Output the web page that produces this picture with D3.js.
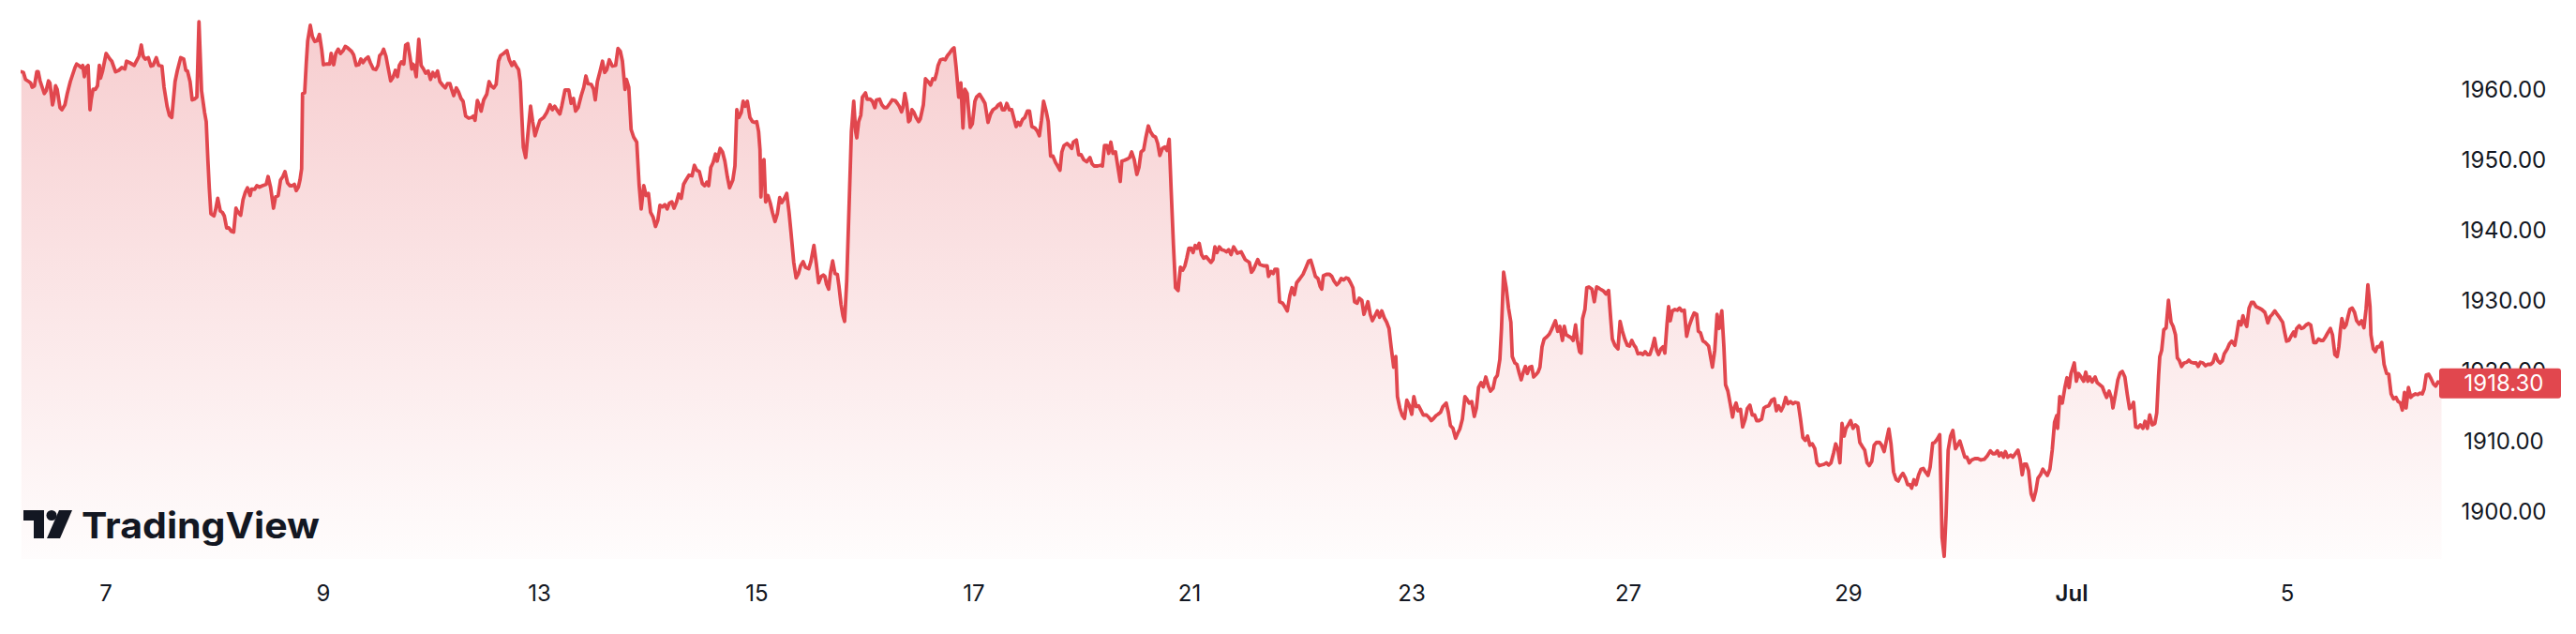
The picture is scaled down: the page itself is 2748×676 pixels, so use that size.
<!DOCTYPE html>
<html>
<head>
<meta charset="utf-8">
<script src="https://cdn.jsdelivr.net/npm/d3@7"></script>
<style>
  html, body { margin: 0; padding: 0; background: #ffffff; }
  svg { display: block; }
</style>
</head>
<body>
<svg id="chart" width="2748" height="676"></svg>
<script>
// ---- data: [bar index (30-min bars from start), price] ----
const pricePoints = [
[0.3,1962.6],[1.2,1962.5],[2.1,1961.5],[3.5,1961.2],[4.3,1961.0],[4.9,1960.4],[5.9,1960.6],[6.9,1962.6],[7.5,1962.6],[8.3,1961.3],[9.2,1960.4],[10.1,1959.5],[10.9,1959.9],[11.9,1961.3],[12.5,1961.0],[13.6,1957.9],[14.1,1958.6],[14.9,1960.6],[15.6,1960.1],[16.8,1957.5],[17.6,1957.2],[18.9,1957.9],[19.9,1959.5],[21.2,1961.2],[23.2,1963.2],[23.9,1963.7],[24.8,1963.5],[25.9,1963.2],[26.5,1963.5],[27.2,1961.9],[27.9,1963.2],[28.8,1963.5],[29.6,1957.2],[30.1,1958.6],[30.9,1960.1],[31.9,1960.1],[32.8,1960.6],[33.6,1963.5],[34.1,1961.7],[34.9,1962.6],[36.5,1965.2],[38.1,1964.4],[38.9,1964.1],[40.5,1962.6],[41.9,1962.8],[43.2,1963.2],[44.5,1963.0],[45.2,1964.1],[46.5,1963.9],[48.5,1963.5],[49.9,1964.4],[50.5,1964.8],[51.5,1966.4],[52.3,1964.8],[53.2,1964.4],[54.5,1964.6],[55.6,1963.4],[56.5,1963.5],[57.9,1964.6],[58.9,1963.5],[60.3,1963.4],[61.2,1960.4],[62.5,1957.7],[63.5,1956.4],[64.5,1956.1],[65.9,1961.2],[66.9,1962.8],[68.3,1964.6],[69.6,1964.4],[70.5,1962.8],[71.2,1962.7],[72.3,1961.2],[73.2,1958.6],[74.1,1958.7],[75.2,1959.0],[76.1,1969.7],[77.2,1959.9],[78.5,1956.8],[79.2,1955.5],[79.9,1950.1],[80.5,1946.1],[81.2,1942.4],[82.5,1942.1],[83.2,1943.0],[84.1,1944.6],[85.2,1942.8],[86.1,1942.6],[86.9,1942.1],[87.9,1940.4],[88.8,1940.4],[89.9,1939.9],[90.9,1939.8],[91.9,1943.2],[92.8,1942.6],[93.9,1942.2],[94.9,1944.4],[95.9,1945.5],[96.8,1946.1],[97.9,1945.0],[98.5,1945.9],[99.9,1945.9],[100.8,1946.4],[101.9,1946.2],[103.2,1946.4],[104.8,1946.6],[105.6,1947.7],[106.7,1946.1],[107.9,1943.2],[108.8,1944.8],[109.9,1945.0],[110.9,1947.2],[111.9,1947.7],[112.8,1948.4],[113.9,1946.8],[114.9,1946.4],[115.9,1946.4],[116.8,1946.6],[117.6,1945.7],[118.5,1946.2],[119.2,1947.2],[119.9,1948.8],[120.3,1959.5],[121.2,1959.6],[121.9,1963.9],[122.5,1967.0],[123.6,1969.2],[124.5,1967.6],[125.5,1966.9],[126.5,1967.0],[127.5,1967.9],[128.5,1965.7],[129.2,1963.6],[130.5,1963.7],[131.9,1963.7],[132.5,1965.2],[133.6,1963.6],[134.5,1965.2],[135.5,1965.8],[136.5,1965.2],[137.6,1965.6],[138.5,1966.2],[139.5,1966.0],[141.2,1965.5],[142.1,1965.0],[143.2,1963.5],[144.3,1963.6],[145.2,1964.4],[146.1,1963.9],[147.2,1964.4],[148.3,1964.7],[149.2,1963.9],[150.5,1963.0],[151.6,1962.9],[152.5,1963.5],[153.2,1964.9],[154.1,1965.2],[154.9,1965.8],[155.9,1964.8],[156.8,1963.2],[157.9,1961.3],[158.9,1961.8],[159.9,1962.8],[160.8,1961.9],[161.6,1963.5],[162.5,1964.0],[163.5,1963.7],[164.3,1966.4],[165.2,1966.6],[166.1,1964.8],[166.9,1963.0],
[167.2,1963.7],[167.9,1963.5],[168.8,1961.9],[169.9,1967.2],[170.9,1963.5],[171.9,1963.0],[172.8,1962.4],[173.9,1962.7],[174.9,1961.5],[175.9,1962.5],[176.8,1961.9],[177.9,1962.7],[178.9,1961.2],[180.3,1960.6],[181.2,1960.3],[182.1,1960.9],[183.2,1960.9],[183.9,1960.1],[184.8,1959.2],[185.9,1960.3],[186.9,1959.7],[187.9,1958.8],[188.8,1958.4],[189.9,1956.3],[191.2,1956.0],[192.5,1956.1],[193.2,1956.3],[193.9,1955.7],[194.9,1958.5],[195.9,1957.7],[196.5,1957.0],[197.6,1958.6],[198.9,1959.4],[199.9,1961.2],[200.8,1960.6],[201.9,1960.3],[202.9,1960.8],[203.9,1964.1],[204.8,1964.9],[206.1,1965.2],[207.5,1965.6],[208.5,1964.3],[209.6,1963.5],[210.5,1964.0],[211.5,1963.4],[212.5,1962.9],[213.2,1961.2],[213.9,1956.1],[214.5,1951.9],[215.5,1950.4],[216.3,1953.2],[217.6,1957.7],[218.5,1955.5],[219.5,1953.5],[220.5,1954.6],[221.6,1955.7],[223.2,1956.1],[224.5,1956.8],[225.9,1957.9],[226.9,1957.2],[227.9,1957.7],[229.2,1957.0],[230.1,1956.6],[230.9,1957.7],[232.3,1960.0],[233.9,1960.0],[234.9,1958.1],[235.9,1958.8],[236.8,1957.0],[237.9,1957.5],[239.2,1959.2],[240.3,1960.4],[241.2,1962.0],[242.1,1960.9],[243.5,1960.8],[244.5,1960.1],[245.2,1958.6],[246.1,1961.2],[247.2,1962.6],[248.3,1964.1],[249.2,1962.5],[250.1,1962.9],[251.2,1964.3],[252.5,1963.4],[253.9,1963.5],[254.9,1965.9],[255.9,1965.5],[256.8,1964.1],[257.9,1960.1],[258.5,1961.5],[259.5,1960.4],[260.5,1954.4],[261.6,1953.3],[262.9,1952.6],[263.9,1946.6],[264.8,1943.1],[265.9,1946.4],[266.9,1945.0],[267.9,1945.3],[268.8,1942.6],[269.9,1941.9],[270.9,1940.6],[271.9,1941.5],[272.8,1943.6],[273.9,1943.4],[274.9,1943.7],[275.9,1943.1],[276.8,1943.9],[277.9,1944.1],[278.8,1943.2],[279.9,1944.1],[280.8,1945.2],[281.9,1944.6],[282.9,1946.6],[283.9,1947.2],[285.2,1947.9],[286.5,1947.8],[287.5,1949.3],[288.5,1948.6],[289.6,1948.4],[290.9,1946.7],[291.9,1946.4],[292.8,1946.9],[293.6,1946.4],[294.5,1949.0],[295.5,1949.7],[296.5,1950.9],[297.2,1949.9],[298.5,1951.7],[299.5,1951.2],[300.5,1949.9],[301.6,1947.6],[302.5,1946.1],[303.9,1947.2],[304.8,1949.2],[305.6,1957.2],[306.5,1956.1],[307.5,1956.8],[308.3,1958.4],[309.2,1957.7],[310.1,1958.4],[311.2,1956.1],[312.3,1955.5],[313.2,1955.4],[314.1,1955.5],[314.9,1954.1],[315.5,1951.5],[315.9,1944.8],[316.5,1949.7],[317.2,1950.1],[317.9,1944.1],[318.9,1945.0],[319.9,1943.9],[320.8,1942.6],[321.9,1941.3],[322.9,1942.4],[323.9,1944.7],[324.8,1944.0],[325.9,1944.6],[326.9,1945.3],[327.9,1942.6],[328.8,1939.5],[329.9,1935.5],[330.9,1933.3],[331.9,1933.9],[332.8,1935.0],[333.9,1935.6],[334.9,1934.8],[336.3,1934.6],[337.2,1935.6],[338.5,1937.9],[339.5,1935.4],[340.5,1932.6],[341.6,1933.5],[342.5,1933.7],
[343.2,1933.5],[343.9,1932.4],[344.8,1931.7],[345.6,1934.1],[346.5,1935.7],[347.5,1933.9],[348.5,1933.8],[349.2,1932.1],[350.1,1929.5],[350.9,1927.9],[351.6,1927.1],[352.5,1932.8],[353.6,1944.4],[354.5,1954.1],[355.5,1958.4],[356.3,1954.1],[356.8,1953.2],[357.6,1955.5],[358.5,1956.4],[359.2,1959.0],[360.5,1959.6],[361.2,1958.7],[362.5,1958.7],[363.5,1958.4],[364.5,1957.5],[365.2,1958.6],[366.5,1958.7],[367.5,1957.9],[368.5,1957.5],[369.6,1957.5],[370.9,1958.1],[371.9,1958.6],[373.2,1958.5],[374.1,1958.1],[374.9,1957.7],[375.9,1956.9],[376.5,1957.5],[377.3,1959.5],[378.1,1958.1],[378.9,1955.5],[379.5,1955.7],[380.3,1957.2],[381.2,1956.8],[382.1,1956.1],[383.2,1955.5],[383.9,1955.9],[385.2,1957.9],[386.1,1961.6],[387.2,1961.2],[388.3,1960.7],[389.2,1961.6],[390.1,1961.5],[390.9,1962.5],[391.5,1963.5],[392.5,1964.3],[393.6,1964.4],[394.5,1964.3],[395.5,1964.9],[396.5,1965.3],[397.6,1965.8],[398.3,1966.0],[399.2,1963.2],[400.3,1959.0],[401.2,1961.0],[402.1,1954.6],[402.9,1960.1],[403.9,1959.5],[404.5,1957.2],[405.2,1954.7],[406.1,1955.2],[407.2,1958.4],[407.9,1959.0],[409.2,1959.4],[410.5,1958.7],[411.5,1958.1],[412.8,1955.4],[413.9,1956.6],[414.9,1957.2],[416.3,1957.5],[417.2,1957.9],[418.1,1958.1],[418.9,1957.2],[419.9,1957.2],[420.8,1958.1],[421.9,1957.2],[422.9,1957.2],[423.9,1955.9],[424.8,1954.8],[425.6,1955.4],[426.5,1955.0],[427.5,1955.8],[428.5,1956.1],[429.6,1957.0],[430.5,1957.0],[431.5,1954.8],[432.8,1954.6],[433.9,1954.1],[434.7,1953.5],[435.6,1955.7],[436.5,1958.4],[437.6,1957.0],[438.5,1955.5],[439.5,1950.6],[440.5,1950.6],[441.6,1949.7],[442.5,1949.2],[443.5,1948.6],[444.3,1951.2],[445.2,1952.1],[446.5,1952.4],[447.5,1952.1],[448.5,1951.7],[449.2,1952.6],[450.5,1952.9],[451.5,1950.8],[452.5,1950.8],[453.6,1950.1],[454.9,1949.8],[456.3,1950.4],[457.2,1949.5],[458.1,1949.2],[459.5,1949.2],[460.8,1949.3],[461.6,1949.2],[462.5,1952.1],[463.6,1952.1],[464.3,1951.0],[465.2,1952.6],[466.1,1951.0],[467.2,1951.2],[468.1,1949.3],[469.2,1947.0],[469.9,1949.9],[470.9,1950.0],[472.3,1950.2],[473.2,1950.4],[474.1,1951.2],[475.2,1950.1],[476.3,1948.0],[477.2,1949.0],[478.1,1951.2],[479.2,1951.5],[480.1,1953.2],[481.2,1954.9],[482.1,1954.1],[483.2,1953.5],[484.3,1953.3],[485.2,1952.4],[486.1,1950.7],[487.2,1951.7],[488.3,1951.9],[489.2,1951.4],[490.1,1953.0],[490.9,1946.1],[491.9,1938.1],[492.8,1931.9],[493.9,1931.5],[494.9,1934.8],[495.9,1934.4],[496.8,1935.0],[497.6,1936.1],[498.5,1937.5],[499.5,1937.5],[500.3,1936.9],[501.2,1937.9],[502.1,1937.5],[502.9,1938.2],[503.9,1936.6],[504.8,1936.1],[505.9,1936.3],[506.9,1935.9],[507.9,1935.5],[508.8,1935.9],[509.6,1937.7],[510.5,1936.9],[511.5,1937.7],[512.5,1937.3],[513.6,1937.2],[514.5,1937.0],[515.5,1937.3],[516.5,1936.6],[517.6,1937.7],[518.5,1937.2],
[519.2,1936.8],[520.8,1937.0],[522.5,1935.9],[524.3,1935.5],[525.2,1934.1],[526.1,1934.5],[527.9,1935.9],[528.8,1935.2],[530.5,1935.0],[531.9,1935.0],[532.5,1933.5],[533.6,1934.2],[534.5,1933.9],[535.2,1934.5],[536.3,1934.5],[537.2,1929.9],[538.5,1929.7],[539.5,1929.2],[540.5,1928.6],[541.6,1930.8],[542.5,1931.9],[543.5,1930.9],[544.5,1932.6],[545.9,1933.2],[547.2,1933.8],[548.5,1934.8],[549.6,1935.7],[550.5,1935.8],[551.5,1934.7],[552.5,1933.5],[553.6,1933.2],[554.5,1932.1],[555.2,1931.7],[555.9,1933.6],[557.2,1933.8],[558.5,1933.8],[559.5,1933.5],[560.5,1932.8],[561.6,1932.3],[562.5,1932.6],[563.5,1933.2],[564.5,1933.0],[565.6,1933.3],[566.5,1933.2],[567.5,1932.6],[568.5,1931.9],[569.2,1929.9],[570.3,1929.7],[571.2,1930.4],[572.3,1930.1],[573.2,1928.1],[574.1,1929.0],[574.9,1929.9],[575.9,1928.1],[576.8,1927.2],[577.9,1927.9],[578.9,1928.6],[579.9,1927.7],[580.8,1928.6],[581.9,1927.6],[582.9,1927.0],[583.9,1926.1],[584.8,1923.5],[585.9,1920.6],[586.8,1922.1],[587.5,1916.4],[588.5,1914.8],[589.6,1913.7],[590.5,1913.3],[591.5,1915.9],[592.5,1915.2],[593.6,1913.9],[594.5,1916.4],[595.5,1915.0],[596.5,1915.1],[597.6,1914.4],[598.5,1913.8],[599.9,1913.8],[600.8,1913.5],[601.9,1913.0],[602.9,1913.3],[603.9,1913.7],[604.8,1913.9],[605.9,1914.2],[606.9,1915.0],[608.3,1915.5],[609.2,1914.2],[610.1,1912.3],[611.2,1911.9],[612.3,1910.5],[613.2,1911.2],[614.1,1911.8],[615.2,1913.2],[616.3,1916.4],[617.2,1916.0],[618.1,1915.5],[619.2,1915.7],[620.3,1913.6],[621.2,1914.8],[622.1,1917.7],[623.2,1918.4],[624.1,1917.8],[625.2,1919.2],[626.3,1917.9],[627.2,1917.2],[628.3,1917.6],[629.2,1919.0],[630.1,1919.4],[631.2,1921.7],[631.9,1926.1],[632.8,1934.1],[633.9,1931.9],[634.9,1929.0],[635.9,1927.0],[636.5,1922.1],[637.6,1921.2],[638.5,1921.0],[639.5,1919.7],[640.3,1918.8],[641.2,1919.9],[642.1,1920.7],[642.9,1919.7],[643.9,1920.6],[644.8,1920.7],[645.6,1919.2],[646.5,1919.5],[647.5,1919.9],[648.3,1920.6],[649.2,1923.5],[650.1,1924.6],[651.2,1924.9],[652.3,1925.3],[653.2,1925.9],[654.1,1926.6],[654.9,1927.2],[655.9,1925.7],[656.8,1926.4],[657.9,1924.4],[658.7,1926.4],[659.5,1925.2],[660.5,1925.0],[661.6,1924.8],[662.5,1924.4],[663.5,1926.6],[664.3,1924.4],[665.2,1922.8],[665.9,1922.6],[666.5,1927.5],[667.5,1928.8],[668.3,1931.9],[669.2,1932.0],[670.5,1931.7],[671.5,1929.9],[672.5,1932.0],[673.6,1931.8],[674.5,1931.6],[675.5,1931.4],[676.5,1931.0],[677.6,1931.5],[678.5,1927.5],[679.2,1924.6],[680.3,1923.7],[681.6,1923.2],[682.5,1927.1],[683.5,1925.7],[684.5,1924.6],[685.6,1923.7],[686.5,1923.6],[687.5,1924.4],[688.5,1923.7],[689.2,1923.4],[690.1,1922.5],[691.2,1922.6],[692.3,1922.4],[693.2,1922.8],[694.1,1922.4],
[695.2,1922.4],[696.3,1923.5],[697.2,1924.7],[698.1,1923.0],[698.9,1922.4],[699.9,1923.2],[700.8,1923.5],[701.6,1922.6],[702.5,1926.6],[703.2,1929.2],[703.9,1927.2],[704.8,1928.6],[705.9,1928.8],[706.9,1928.7],[707.9,1929.0],[708.8,1928.6],[709.9,1928.7],[710.9,1925.0],[711.9,1926.4],[713.2,1927.6],[714.1,1928.3],[715.2,1928.1],[715.9,1925.7],[716.8,1925.5],[717.9,1924.3],[718.9,1924.1],[720.3,1923.6],[721.2,1921.9],[721.9,1920.6],[722.9,1923.0],[723.9,1928.1],[724.8,1926.1],[725.9,1928.6],[726.8,1923.5],[727.5,1918.1],[728.5,1917.2],[729.6,1915.2],[730.5,1913.5],[731.2,1914.8],[732.0,1915.5],[732.8,1914.4],[733.9,1914.6],[734.8,1912.1],[735.9,1913.2],[736.8,1914.7],[737.9,1915.2],[738.9,1913.8],[739.9,1913.8],[740.8,1913.0],[741.9,1913.0],[742.9,1913.2],[743.9,1914.8],[744.8,1915.0],[745.9,1915.1],[747.2,1915.9],[748.3,1916.1],[749.2,1914.4],[750.1,1915.1],[751.2,1914.4],[752.1,1915.0],[753.2,1916.3],[754.1,1915.4],[755.2,1915.7],[756.3,1915.4],[757.2,1915.6],[758.5,1915.5],[759.5,1913.2],[760.5,1910.6],[761.5,1910.2],[762.5,1910.8],[763.5,1909.5],[764.5,1909.7],[765.6,1909.0],[766.5,1907.0],[767.5,1906.6],[768.5,1906.7],[769.6,1906.8],[770.5,1907.0],[771.5,1906.7],[772.5,1907.0],[773.6,1908.4],[774.5,1909.7],[775.5,1908.8],[776.3,1907.0],[777.2,1912.6],[778.1,1910.8],[778.9,1911.9],[779.9,1912.4],[780.9,1913.0],[781.9,1911.9],[782.9,1912.4],[783.9,1912.1],[784.8,1909.9],[785.9,1909.3],[786.9,1908.8],[787.9,1907.0],[788.8,1906.6],[789.9,1907.2],[790.9,1909.5],[791.9,1909.9],[793.2,1909.9],[794.1,1909.5],[795.2,1908.6],[796.3,1910.4],[797.2,1911.8],[798.1,1909.7],[799.2,1905.7],[800.3,1904.6],[801.2,1904.4],[802.1,1905.0],[803.2,1905.5],[804.3,1904.8],[805.2,1903.9],[806.1,1903.9],[806.9,1903.4],[807.9,1904.6],[808.8,1903.9],[809.9,1905.3],[810.9,1906.1],[811.9,1906.2],[812.8,1905.7],[813.9,1905.2],[814.8,1906.4],[815.9,1909.8],[816.8,1909.9],[817.9,1910.4],[818.9,1911.0],[819.9,1896.4],[820.8,1893.7],[821.6,1899.5],[822.5,1908.8],[823.5,1910.8],[824.5,1911.6],[825.6,1909.0],[826.5,1909.5],[827.5,1910.1],[828.5,1909.0],[829.6,1907.8],[830.5,1907.8],[831.5,1907.0],[832.5,1907.4],[833.9,1907.6],[835.2,1907.6],[836.5,1907.4],[837.9,1907.5],[839.2,1908.0],[840.5,1908.7],[841.6,1908.3],[842.5,1908.3],[843.5,1908.7],[844.3,1908.0],[845.2,1908.4],[846.1,1907.8],[846.9,1908.6],[847.9,1907.8],[849.2,1908.1],[850.1,1907.8],[851.2,1908.3],[852.3,1908.8],[853.2,1907.5],[854.1,1905.3],[854.9,1906.8],[855.9,1906.8],[856.8,1905.9],[857.9,1902.6],[858.9,1901.7],[859.9,1903.0],[860.8,1904.8],[861.9,1905.3],[862.9,1906.1],[863.9,1905.6],[864.8,1905.2],[865.9,1906.1],[866.9,1908.8],[867.9,1912.8],[868.8,1913.7],[869.2,1911.9],[870.1,1916.4],
[871.2,1915.5],[872.3,1917.7],[873.2,1919.1],[874.1,1917.7],[874.9,1919.7],[876.3,1921.2],[877.2,1918.6],[878.1,1919.7],[879.2,1919.2],[880.3,1918.6],[881.2,1919.9],[882.1,1918.6],[882.9,1919.2],[883.9,1918.5],[885.2,1919.2],[886.1,1918.4],[887.2,1918.1],[888.3,1917.8],[889.2,1917.0],[890.1,1916.3],[891.2,1917.2],[892.3,1916.1],[892.8,1914.8],[893.9,1916.8],[894.9,1918.8],[895.9,1919.8],[896.8,1920.0],[897.9,1919.2],[898.9,1916.8],[899.9,1914.7],[900.8,1915.0],[901.6,1915.6],[902.5,1912.1],[903.5,1912.0],[904.5,1912.4],[905.6,1911.9],[906.5,1912.9],[907.5,1911.9],[908.5,1913.8],[909.6,1912.4],[910.7,1912.6],[911.5,1914.1],[912.3,1919.5],[912.8,1922.1],[913.6,1923.0],[914.5,1925.9],[915.5,1926.2],[916.5,1930.1],[917.6,1927.0],[918.5,1926.4],[919.5,1925.2],[920.3,1921.9],[921.2,1921.5],[922.1,1920.7],[923.2,1921.2],[924.3,1921.3],[925.2,1921.6],[926.1,1921.3],[927.2,1921.2],[928.3,1921.2],[929.2,1920.7],[930.1,1921.3],[931.2,1921.2],[932.3,1920.8],[933.2,1921.0],[934.5,1921.0],[935.5,1921.3],[936.5,1922.4],[937.6,1921.5],[938.5,1921.2],[939.5,1921.5],[940.3,1922.5],[941.6,1923.2],[942.5,1923.9],[943.5,1924.3],[944.8,1923.7],[945.6,1925.2],[946.5,1927.1],[947.5,1926.6],[948.3,1927.9],[949.2,1926.9],[949.9,1926.4],[950.9,1929.0],[951.9,1929.8],[952.8,1929.8],[953.9,1929.2],[955.2,1929.0],[956.3,1928.8],[957.6,1928.4],[958.1,1927.9],[958.9,1926.9],[959.9,1927.8],[960.8,1928.1],[961.9,1928.6],[962.9,1928.1],[964.0,1927.6],[965.2,1927.0],[966.1,1925.5],[966.9,1924.3],[967.9,1924.4],[968.8,1925.0],[969.9,1925.6],[970.5,1925.0],[971.2,1926.1],[972.3,1926.5],[973.2,1926.1],[974.1,1926.2],[975.2,1926.6],[976.3,1926.8],[977.2,1926.6],[978.5,1924.1],[979.5,1924.1],[980.5,1924.6],[981.6,1924.4],[982.5,1924.4],[983.5,1924.9],[984.5,1925.5],[985.6,1926.1],[986.5,1925.2],[987.5,1922.4],[988.5,1922.1],[989.2,1923.5],[989.9,1926.0],[990.5,1927.5],[991.5,1926.2],[992.3,1926.6],[993.2,1927.9],[993.9,1928.8],[994.9,1929.0],[995.9,1928.4],[996.8,1927.2],[997.9,1926.7],[998.9,1927.2],[999.9,1926.2],[1000.8,1928.8],[1001.6,1932.3],[1002.5,1929.2],[1002.9,1925.2],[1003.9,1923.2],[1004.8,1922.8],[1005.6,1923.5],[1006.5,1923.5],[1007.5,1924.1],[1008.5,1921.0],[1009.6,1919.7],[1010.5,1919.6],[1011.5,1916.8],[1012.5,1916.1],[1013.6,1916.3],[1014.5,1915.7],[1015.5,1915.5],[1016.3,1914.5],[1017.2,1917.0],[1017.9,1914.8],[1018.9,1917.7],[1019.9,1916.3],[1020.8,1916.6],[1021.9,1916.8],[1022.9,1916.7],[1023.9,1916.9],[1024.8,1916.8],[1025.6,1917.5],[1026.5,1919.5],[1027.5,1919.6],[1028.5,1919.0],[1029.6,1918.2],[1030.5,1917.9],[1031.5,1918.5],[1033.0,1918.3]
];

const lastPrice = 1918.30;
const timeDomain = [0, 1033.6];
const priceDomain = [1893.33, 1972.8];

const priceTicks = [1900, 1910, 1920, 1930, 1940, 1950, 1960];
const timeTickBars = [36.4, 129.2, 221.4, 314.2, 406.8, 498.8, 593.6, 686, 780, 875.2, 967.2];
const timeTickLabels = ["7", "9", "13", "15", "17", "21", "23", "27", "29", "Jul", "5"];

// ---- layout ----
const W = 2748, H = 676;
const plot = { left: 22, right: 2606, top: 0, bottom: 596 };
const lineColor = "#E1474E";
const textColor = "#131722";
const fontFamily = "Inter, 'Noto Sans', Roboto, sans-serif";

const svg = d3.select("#chart");

const x = d3.scaleLinear().domain(timeDomain).range([plot.left, plot.right]);
const y = d3.scaleLinear().domain(priceDomain).range([plot.bottom, plot.top]);

const defs = svg.append("defs");
const grad = defs.append("linearGradient")
  .attr("id", "areaGrad")
  .attr("gradientUnits", "userSpaceOnUse")
  .attr("x1", 0).attr("y1", plot.top).attr("x2", 0).attr("y2", plot.bottom);
grad.append("stop").attr("offset", "0%").attr("stop-color", lineColor).attr("stop-opacity", 0.28);
grad.append("stop").attr("offset", "100%").attr("stop-color", lineColor).attr("stop-opacity", 0.015);

defs.append("clipPath").attr("id", "plotClip")
  .append("rect").attr("x", plot.left).attr("y", plot.top)
  .attr("width", plot.right - plot.left).attr("height", plot.bottom - plot.top);

const area = d3.area()
  .x(d => x(d[0]))
  .y0(plot.bottom)
  .y1(d => y(d[1]));

const line = d3.line()
  .x(d => x(d[0]))
  .y(d => y(d[1]));

const g = svg.append("g").attr("clip-path", "url(#plotClip)");
g.append("path").datum(pricePoints).attr("d", area).attr("fill", "url(#areaGrad)");

// ---- logo (TradingView) ----
const logo = svg.append("g").attr("fill", textColor);
logo.append("path").attr("d", "M25,544 H47 V574 H36 V555 H25 Z");
logo.append("circle").attr("cx", 55).attr("cy", 549.5).attr("r", 5.5);
logo.append("path").attr("d", "M63,544 H77 L64,574 H50 Z");
logo.append("text")
  .attr("x", 87).attr("y", 574)
  .attr("font-family", "Inter, 'Noto Sans', sans-serif")
  .attr("font-weight", 700)
  .attr("font-size", 38)
  .attr("textLength", 254)
  .attr("lengthAdjust", "spacingAndGlyphs")
  .text("TradingView");

// ---- line ----
g.append("path").datum(pricePoints)
  .attr("d", line)
  .attr("fill", "none")
  .attr("stroke", lineColor)
  .attr("stroke-width", 3.8)
  .attr("stroke-linejoin", "round")
  .attr("stroke-linecap", "round");

// ---- right price axis ----
const yAxisX = 2671;
svg.append("g").selectAll("text").data(priceTicks).join("text")
  .attr("x", yAxisX)
  .attr("y", d => y(d))
  .attr("text-anchor", "middle")
  .attr("dominant-baseline", "central")
  .attr("font-family", fontFamily)
  .attr("font-size", 24)
  .attr("fill", textColor)
  .text(d => d3.format(".2f")(d));

// last price label (covers the 1920.00 tick, as in the original)
const lp = svg.append("g");
lp.append("rect")
  .attr("x", 2602).attr("y", y(lastPrice) - 16)
  .attr("width", 130).attr("height", 32)
  .attr("rx", 3)
  .attr("fill", lineColor);
lp.append("text")
  .attr("x", yAxisX).attr("y", y(lastPrice))
  .attr("text-anchor", "middle")
  .attr("dominant-baseline", "central")
  .attr("font-family", fontFamily)
  .attr("font-size", 24)
  .attr("fill", "#ffffff")
  .text(d3.format(".2f")(lastPrice));

// ---- time axis ----
svg.append("g").selectAll("text").data(timeTickBars).join("text")
  .attr("x", d => x(d))
  .attr("y", 632)
  .attr("text-anchor", "middle")
  .attr("dominant-baseline", "central")
  .attr("font-family", fontFamily)
  .attr("font-size", 24)
  .attr("font-weight", (d, i) => timeTickLabels[i] === "Jul" ? 600 : 400)
  .attr("fill", textColor)
  .text((d, i) => timeTickLabels[i]);
</script>
</body>
</html>
